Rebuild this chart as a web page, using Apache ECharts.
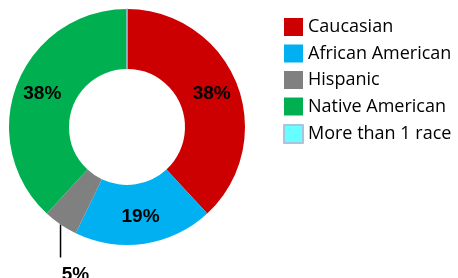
<!DOCTYPE html>
<html>
<head>
<meta charset="utf-8">
<script src="https://cdn.jsdelivr.net/npm/echarts@6/dist/echarts.min.js"></script>
<style>
  html, body { margin: 0; padding: 0; background: #fff; }
  #chart { width: 458px; height: 278px; }
</style>
</head>
<body>
<div id="chart"></div>
<script>
// counts per group (percentages are worked out by the pie)
var groups = ['Caucasian', 'African American', 'Hispanic', 'Native American', 'More than 1 race'];
var counts = [8, 4, 1, 8, 0];
var colors = ['#CC0000', '#00B0F0', '#808080', '#00B050', '#66FFFF'];

var chart = echarts.init(document.getElementById('chart'));

var data = groups.map(function (name, i) {
    var item = {
        name: name,
        value: counts[i],
        itemStyle: { color: colors[i] }
    };
    if (counts[i] === 0) {
        item.itemStyle.borderColor = '#A9C4DC';
        item.itemStyle.borderWidth = 1.5;
        item.label = { show: false };
    }
    if (name === 'Hispanic') {
        item.label = { position: 'outside' };
        item.labelLine = { show: true, length: 20, length2: 0, lineStyle: { color: '#000', width: 1.5 } };
    }
    return item;
});

chart.setOption({
    animation: false,
    color: colors,
    legend: {
        orient: 'vertical',
        left: 283,
        top: 18,
        padding: 0,
        itemWidth: 19,
        itemHeight: 18,
        itemGap: 8.5,
        icon: 'rect',
        textStyle: { fontFamily: 'Open Sans', fontSize: 18, color: '#000' },
        data: groups
    },
    series: [{
        type: 'pie',
        center: [127, 127],
        radius: [58, 118],
        startAngle: 90,
        clockwise: true,
        percentPrecision: 0,
        avoidLabelOverlap: false,
        label: {
            show: true,
            position: 'inside',
            formatter: '{d}%',
            fontFamily: 'Liberation Sans',
            fontWeight: 'bold',
            fontSize: 19,
            color: '#000'
        },
        labelLayout: function (params) {
            if (params.dataIndex !== 2 || !params.labelLinePoints) return {};
            var p0 = params.labelLinePoints[0];
            return {
                x: p0[0] + 15,
                y: p0[1] + 50,
                align: 'center',
                verticalAlign: 'middle',
                labelLinePoints: [p0, [p0[0], p0[1] + 33], [p0[0], p0[1] + 33]]
            };
        },
        data: data
    }]
});
</script>
</body>
</html>
